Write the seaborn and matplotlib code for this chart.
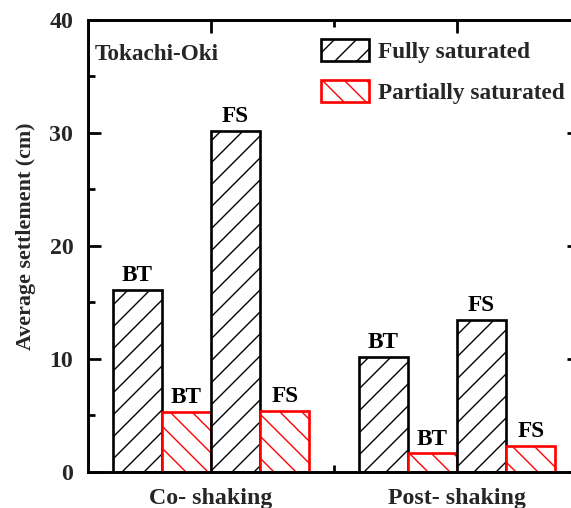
import matplotlib
matplotlib.use('Agg')
import matplotlib.pyplot as plt
import seaborn as sns
import pandas as pd
from matplotlib.patches import Patch
from matplotlib.ticker import MultipleLocator, FixedLocator

categories = ["Co- shaking", "Post- shaking"]
series = ["BT fully", "BT partially", "FS fully", "FS partially"]
bt_fully = [16.1, 10.2]
bt_partial = [5.3, 1.65]
fs_fully = [30.2, 13.45]
fs_partial = [5.4, 2.3]
bar_labels = ["BT", "BT", "FS", "FS"]
legend_labels = ["Fully saturated", "Partially saturated"]
y_ticks = [0, 10, 20, 30, 40]

sns.set_theme(style="ticks")
plt.rcParams['font.family'] = ['Liberation Serif', 'DejaVu Serif']
plt.rcParams['font.weight'] = 'bold'
plt.rcParams['hatch.linewidth'] = 0.75
plt.rcParams['axes.edgecolor'] = 'black'

DPI = 132
fig = plt.figure(figsize=(571 / DPI, 508 / DPI), dpi=DPI)
ax = fig.add_axes([0.154, 0.0709, 0.8616, 0.8898])

rows = []
for s, vals in zip(series, [bt_fully, bt_partial, fs_fully, fs_partial]):
    for c, v in zip(categories, vals):
        rows.append(dict(category=c, series=s, value=v))
df = pd.DataFrame(rows)

sns.barplot(data=df, x='category', y='value', hue='series', order=categories,
            hue_order=series, width=0.8, ax=ax, legend=False, errorbar=None, gap=0)

styles = [('black', '//'), ('red', '\\\\'), ('black', '//'), ('red', '\\\\')]
for cont, (col, h), lab in zip(ax.containers, styles, bar_labels):
    for bar in cont:
        bar.set_facecolor('white')
        bar.set_edgecolor(col)
        bar.set_hatch(h)
        bar.set_linewidth(1.45)
    ax.bar_label(cont, labels=[lab] * len(cont), padding=2, fontsize=12.7,
                 fontweight='bold', color='black')

ax.set_xlim(-0.5, 1.5)
ax.set_ylim(0, 40)
ax.set_yticks(y_ticks)
ax.yaxis.set_minor_locator(MultipleLocator(5))
ax.xaxis.set_minor_locator(FixedLocator([0.5]))
ax.tick_params(which='both', direction='in', top=True, right=True, width=1.5,
               color='black')
ax.tick_params(which='major', length=7)
ax.tick_params(which='minor', length=3.8)
ax.tick_params(axis='y', which='major', pad=8, labelsize=13)
ax.tick_params(axis='x', which='major', pad=9, labelsize=13)
for sp in ax.spines.values():
    sp.set_linewidth(1.6)
    sp.set_color('black')

ax.set_xlabel('')
ax.set_ylabel('Average settlement (cm)', fontsize=12, fontweight='bold')
ax.yaxis.set_label_coords(-0.106, 0.522)

ax.text(0.014, 0.912, 'Tokachi-Oki', transform=ax.transAxes, fontsize=12.7,
        fontweight='bold', va='baseline', ha='left')

handles = [Patch(facecolor='white', edgecolor='black', hatch='//', lw=1.45),
           Patch(facecolor='white', edgecolor='red', hatch='\\\\', lw=1.45)]
ax.legend(handles, legend_labels, loc='upper left', bbox_to_anchor=(0.562, 0.923),
          bbox_transform=fig.transFigure, frameon=False, fontsize=12.7,
          handlelength=2.06, handleheight=1.05, handletextpad=0.4,
          labelspacing=0.75, borderpad=0, borderaxespad=0)

fig.savefig('out.png', dpi=DPI)
